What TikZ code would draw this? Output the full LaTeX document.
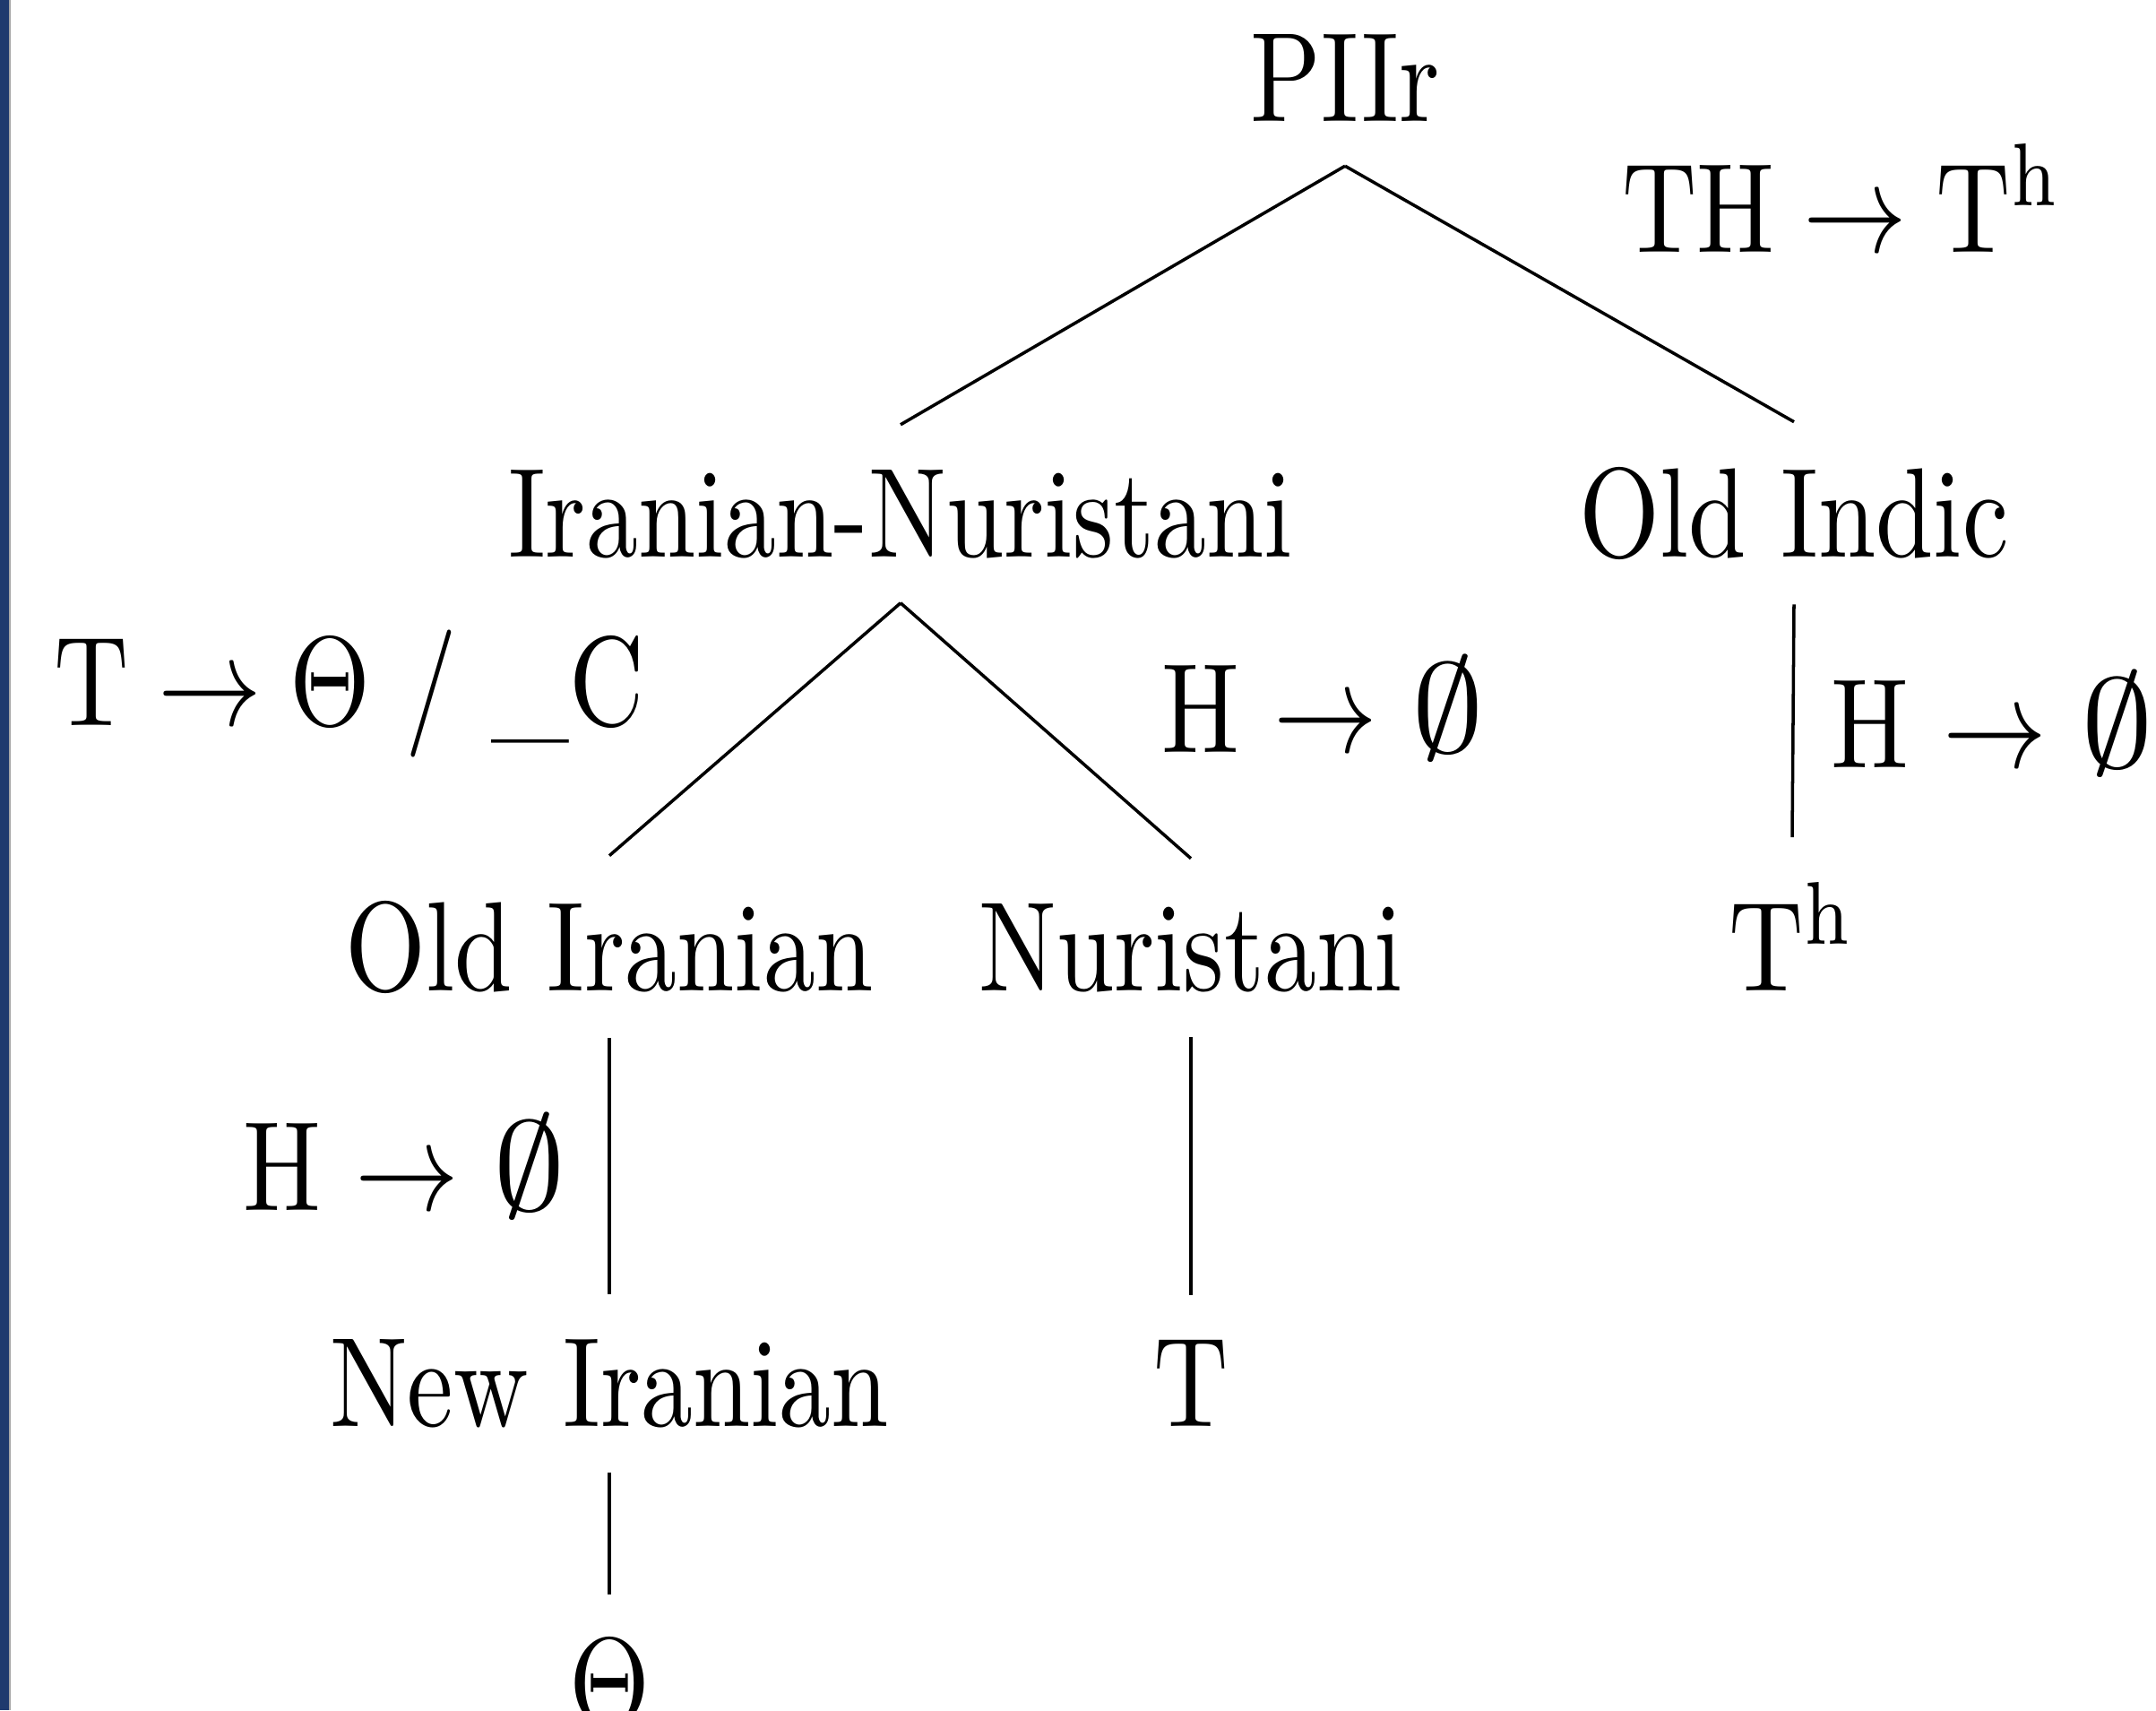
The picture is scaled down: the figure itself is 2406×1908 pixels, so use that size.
\documentclass[tikz,border=0pt]{standalone}
\usepackage{graphicx}
\usepackage{tikz}

\definecolor{stripblue}{RGB}{31,58,110}
\newcommand{\nullset}{\scalebox{1.4}[1]{$\emptyset$}}

\begin{document}
\begin{tikzpicture}[x=0.01cm, y=-0.01cm,
    every node/.style={xscale=3.29, yscale=4.04},
    lang/.style={anchor=base},
    rule/.style={anchor=base west, inner sep=0pt},
    branch/.style={black, line width=1pt}]
    % Frame
    \useasboundingbox (0, 0) rectangle (2406, 1908);
    \fill[white] (0, 0) rectangle (2406, 1908);
    \fill[stripblue] (0, 0) rectangle (10, 1908);
    \fill[gray!70] (10, 0) rectangle (12, 1908);

    \begin{scope}
      \clip (0, 0) rectangle (2406, 1908);
      % Root
      \node[lang] (piir) at (1501, 135) {PIIr};
      % Second level
      \node[lang] (inur) at (1005, 621) {Iranian-Nuristani};
      \node[lang] (oind) at (2002, 621) {Old Indic};
      % Third level
      \node[lang] (oira) at (680, 1105) {Old Iranian};
      \node[lang] (nuri) at (1329, 1105) {Nuristani};
      \node[lang] (thout) at (2000, 1105) {$\mathrm{T^h}$};
      % Fourth level
      \node[lang] (nira) at (680, 1591) {New Iranian};
      \node[lang] (tout) at (1329, 1591) {T};
      % Fifth level
      \node[lang] (thetaout) at (680, 1926) {$\Theta$};

      % Branches
      \draw[branch] (piir.south) -- (inur.north);
      \draw[branch] (piir.south) -- (oind.north);
      \draw[branch] (inur.south) -- (oira.north);
      \draw[branch] (inur.south) -- (nuri.north);
      \draw[branch] (oind.south) -- (thout.north);
      \draw[branch] (oira.south) -- (nira.north);
      \draw[branch] (nuri.south) -- (tout.north);
      \draw[branch] (nira.south) -- (thetaout.north);

      % Sound changes
      \node[rule] (lblth) at (1808, 281) {$\mathrm{TH}\rightarrow\mathrm{T^h}$};
      \node[rule] (lbltc) at (58, 809) {$\mathrm{T}\rightarrow\Theta$ / \_C};
      \node[rule] (lblhnu) at (1294, 839) {H $\rightarrow$ \nullset};
      \node[rule] (lblhin) at (2041, 856) {H $\rightarrow$ \nullset};
      \node[rule] (lblhoi) at (269, 1350) {H $\rightarrow$ \nullset};
    \end{scope}
\end{tikzpicture}
\end{document}
